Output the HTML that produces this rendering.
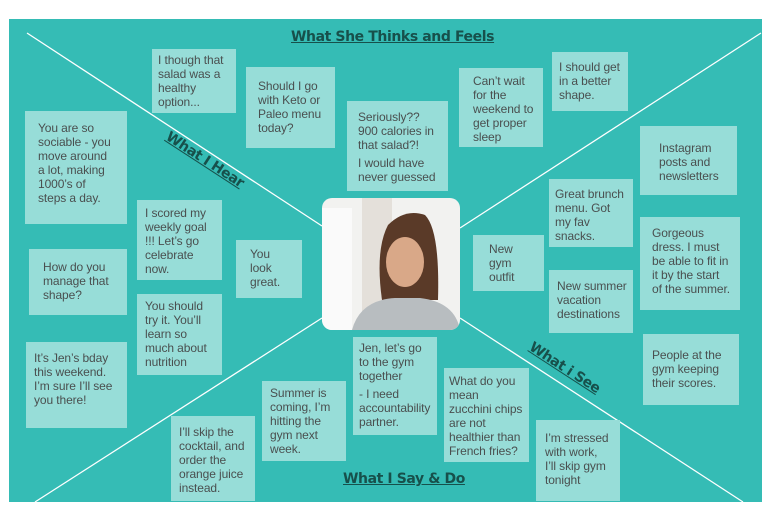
<!DOCTYPE html>
<html><head><meta charset="utf-8"><style>
body{margin:0;width:770px;height:520px;background:#fff;position:relative;overflow:hidden;font-family:"Liberation Sans",Arial,sans-serif}
.bg{position:absolute;left:9px;top:19px;width:753px;height:483px;background:#35bcb5}
.n{position:absolute;background:#97ddd8;color:#4a4f4f;font-size:12px;line-height:14px;box-sizing:border-box;padding:4px 6px;white-space:nowrap;letter-spacing:-0.1px}
.t{position:absolute;color:#17504b;font-weight:bold;font-size:14px;text-decoration:underline;white-space:nowrap;font-family:"DejaVu Sans","Liberation Sans",sans-serif;letter-spacing:-0.4px}
svg{position:absolute;left:0;top:0}
</style></head><body>
<div class="bg"></div>
<svg width="770" height="520">
<g stroke="#fff" stroke-width="1.3">
<line x1="27" y1="33" x2="322" y2="226"/>
<line x1="761" y1="33" x2="460" y2="228"/>
<line x1="35" y1="502" x2="322" y2="318"/>
<line x1="460" y1="318" x2="743" y2="502"/>
</g>
<defs><clipPath id="c"><rect x="322" y="198" width="138" height="132" rx="10"/></clipPath></defs>
<g clip-path="url(#c)">
<rect x="322" y="198" width="138" height="132" fill="#f2f2f0"/>
<rect x="322" y="208" width="30" height="122" fill="#fafafa"/>
<rect x="362" y="198" width="30" height="132" fill="#e4e0da"/>
<path d="M382 300 Q375 250 388 225 Q405 208 425 215 Q440 230 438 300 Z" fill="#5a3a28"/>
<ellipse cx="405" cy="262" rx="19" ry="25" fill="#d9a888"/>
<path d="M352 330 Q360 300 395 298 L420 298 Q455 302 460 330 Z" fill="#b8bdc0"/>
</g>
</svg>
<div class="t" style="left:291px;top:29px">What She Thinks and Feels</div>
<div class="t" style="left:160px;top:152px;transform:rotate(33deg);transform-origin:center">What I Hear</div>
<div class="t" style="left:524px;top:360px;transform:rotate(33deg);transform-origin:center">What i See</div>
<div class="t" style="left:343px;top:471px">What I Say &amp; Do</div>

<div class="n" style="left:152px;top:49px;width:84px;height:64px">I though that<br>salad was a<br>healthy<br>option...</div>
<div class="n" style="left:246px;top:67px;width:89px;height:81px;padding:12px 12px">Should I go<br>with Keto or<br>Paleo menu<br>today?</div>
<div class="n" style="left:347px;top:101px;width:101px;height:90px;padding:9px 11px">Seriously??<br>900 calories in<br>that salad?!<div style="margin-top:4px">I would have<br>never guessed</div></div>
<div class="n" style="left:459px;top:68px;width:84px;height:79px;padding:6px 14px">Can’t wait<br>for the<br>weekend to<br>get proper<br>sleep</div>
<div class="n" style="left:552px;top:52px;width:76px;height:59px;padding:8px 7px">I should get<br>in a better<br>shape.</div>
<div class="n" style="left:640px;top:126px;width:97px;height:69px;padding:15px 19px">Instagram<br>posts and<br>newsletters</div>
<div class="n" style="left:549px;top:179px;width:84px;height:68px;padding:8px 6px">Great brunch<br>menu. Got<br>my fav<br>snacks.</div>
<div class="n" style="left:640px;top:217px;width:100px;height:93px;padding:9px 12px">Gorgeous<br>dress. I must<br>be able to fit in<br>it by the start<br>of the summer.</div>
<div class="n" style="left:473px;top:235px;width:71px;height:56px;padding:7px 16px">New<br>gym<br>outfit</div>
<div class="n" style="left:549px;top:270px;width:84px;height:63px;padding:9px 8px">New summer<br>vacation<br>destinations</div>
<div class="n" style="left:643px;top:334px;width:96px;height:71px;padding:14px 9px">People at the<br>gym keeping<br>their scores.</div>
<div class="n" style="left:536px;top:420px;width:84px;height:81px;padding:11px 9px">I’m stressed<br>with work,<br>I’ll skip gym<br>tonight</div>
<div class="n" style="left:444px;top:368px;width:85px;height:94px;padding:6px 5px">What do you<br>mean<br>zucchini chips<br>are not<br>healthier than<br>French fries?</div>
<div class="n" style="left:353px;top:337px;width:84px;height:98px;padding:4px 6px">Jen, let’s go<br>to the gym<br>together<div style="margin-top:4px">- I need<br>accountability<br>partner.</div></div>
<div class="n" style="left:262px;top:381px;width:84px;height:80px;padding:5px 8px">Summer is<br>coming, I’m<br>hitting the<br>gym next<br>week.</div>
<div class="n" style="left:171px;top:416px;width:84px;height:85px;padding:9px 8px">I’ll skip the<br>cocktail, and<br>order the<br>orange juice<br>instead.</div>
<div class="n" style="left:26px;top:342px;width:101px;height:86px;padding:9px 8px">It’s Jen’s bday<br>this weekend.<br>I’m sure I’ll see<br>you there!</div>
<div class="n" style="left:137px;top:294px;width:85px;height:81px;padding:5px 8px">You should<br>try it. You’ll<br>learn so<br>much about<br>nutrition</div>
<div class="n" style="left:29px;top:249px;width:98px;height:66px;padding:11px 14px">How do you<br>manage that<br>shape?</div>
<div class="n" style="left:236px;top:240px;width:66px;height:58px;padding:7px 14px">You<br>look<br>great.</div>
<div class="n" style="left:137px;top:200px;width:85px;height:80px;padding:6px 8px">I scored my<br>weekly goal<br>!!! Let’s go<br>celebrate<br>now.</div>
<div class="n" style="left:25px;top:111px;width:102px;height:113px;padding:10px 13px">You are so<br>sociable - you<br>move around<br>a lot, making<br>1000’s of<br>steps a day.</div>
</body></html>
